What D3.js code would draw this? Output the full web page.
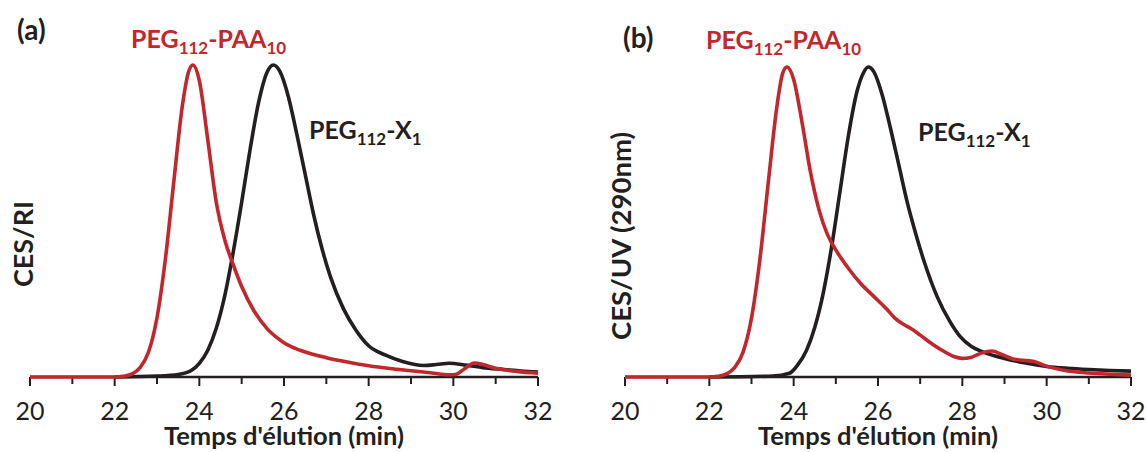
<!DOCTYPE html>
<html><head><meta charset="utf-8">
<script src="https://cdn.jsdelivr.net/npm/d3@7"></script>
<style>
body{margin:0;background:#fff;}
svg{display:block;font-family:Lato,"Open Sans",sans-serif;}
</style></head>
<body><svg id="c" width="1146" height="452"></svg>
<script>
// ---- data (time in min, normalised signal) ----
const xMajorTicks = [20, 22, 24, 26, 28, 30, 32];
const xMinorTicks = [21, 23, 25, 27, 29, 31];

const redA = [[20,0],[21,0],[22,0],[22.2,0.002],[22.4,0.009],[22.6,0.03],[22.8,0.08],[23.0,0.19],[23.2,0.38],[23.4,0.63],[23.6,0.87],[23.75,0.98],[23.85,1.0],[24.0,0.95],[24.2,0.76],[24.4,0.56],[24.6,0.44],[24.8,0.36],[25.0,0.29],[25.3,0.21],[25.6,0.155],[26.0,0.11],[26.5,0.08],[27.0,0.062],[27.5,0.048],[28.0,0.036],[28.5,0.027],[29.0,0.02],[29.5,0.013],[29.9,0.007],[30.05,0.008],[30.25,0.025],[30.5,0.045],[30.7,0.04],[31.0,0.028],[31.5,0.018],[32,0.012]];
const blackA = [[22,0.0],[23.0,0.003],[23.5,0.008],[23.8,0.02],[24.0,0.044],[24.2,0.086],[24.4,0.156],[24.6,0.26],[24.8,0.4],[25.0,0.56],[25.2,0.73],[25.4,0.88],[25.6,0.977],[25.75,1.0],[25.9,0.98],[26.1,0.9],[26.3,0.78],[26.5,0.65],[26.7,0.52],[26.9,0.41],[27.1,0.32],[27.4,0.22],[27.7,0.15],[28.0,0.1],[28.4,0.07],[28.8,0.05],[29.3,0.037],[29.6,0.04],[29.9,0.044],[30.3,0.038],[30.7,0.03],[31.2,0.024],[31.6,0.019],[32,0.016]];

const redB = [[20,0],[21,0],[22,0],[22.2,0.002],[22.4,0.009],[22.6,0.03],[22.8,0.08],[23.0,0.19],[23.2,0.38],[23.4,0.63],[23.6,0.87],[23.74,0.98],[23.84,1.0],[24.0,0.96],[24.2,0.82],[24.4,0.66],[24.6,0.54],[24.8,0.46],[25.0,0.41],[25.3,0.35],[25.6,0.3],[25.9,0.26],[26.2,0.22],[26.4,0.19],[26.6,0.17],[26.8,0.155],[27.0,0.135],[27.3,0.105],[27.6,0.08],[27.8,0.066],[28.0,0.06],[28.2,0.063],[28.45,0.077],[28.7,0.084],[28.95,0.072],[29.2,0.058],[29.45,0.054],[29.7,0.05],[30.0,0.035],[30.4,0.022],[31.0,0.013],[31.5,0.009],[32,0.006]];
const blackB = [[22,0.0],[23.5,0.003],[23.9,0.012],[24.1,0.04],[24.3,0.085],[24.5,0.16],[24.7,0.27],[24.9,0.42],[25.1,0.6],[25.3,0.78],[25.5,0.92],[25.65,0.98],[25.77,1.0],[25.9,0.985],[26.1,0.91],[26.3,0.8],[26.5,0.68],[26.7,0.56],[26.9,0.46],[27.1,0.37],[27.4,0.26],[27.7,0.18],[27.95,0.13],[28.2,0.1],[28.5,0.08],[29.0,0.06],[29.5,0.045],[30.0,0.034],[30.5,0.028],[31.0,0.024],[31.5,0.021],[32,0.019]];

const panelLetters = ["(a)", "(b)"];
const yTitles = ["CES/RI", "CES/UV (290nm)"];
const xTitle = "Temps d'élution (min)";

const RED = "#c1272d", BLK = "#231f20";
const svg = d3.select("#c");

function panel(cfg){
  const g = svg.append("g");
  const x = d3.scaleLinear().domain([20, 32]).range([cfg.x0, cfg.x1]);
  const y = d3.scaleLinear().domain([0, 1]).range([cfg.base, cfg.top]);

  // axis line
  g.append("line").attr("x1", x(20)).attr("x2", x(32)).attr("y1", cfg.base).attr("y2", cfg.base)
    .attr("stroke", BLK).attr("stroke-width", 2.5);
  g.selectAll(".mj").data(xMajorTicks).join("line")
    .attr("x1", d => x(d)).attr("x2", d => x(d)).attr("y1", cfg.base).attr("y2", cfg.base + 9)
    .attr("stroke", BLK).attr("stroke-width", 2);
  g.selectAll(".mn").data(xMinorTicks).join("line")
    .attr("x1", d => x(d)).attr("x2", d => x(d)).attr("y1", cfg.base).attr("y2", cfg.base + 7)
    .attr("stroke", BLK).attr("stroke-width", 2);
  g.selectAll(".tl").data(xMajorTicks).join("text")
    .attr("x", d => x(d)).attr("y", 420).attr("text-anchor", "middle")
    .attr("font-size", 25).attr("fill", BLK).text(d => d);
  g.append("text").attr("x", (cfg.x0 + cfg.x1) / 2).attr("y", 445).attr("text-anchor", "middle")
    .attr("font-size", 25.5).attr("font-weight", "bold").attr("fill", BLK).text(xTitle);

  // y title
  g.append("text").attr("transform", `translate(${cfg.yx},${cfg.yy}) rotate(-90)`)
    .attr("text-anchor", "middle").attr("font-size", cfg.ysize).attr("font-weight", "bold")
    .attr("fill", BLK).text(cfg.ytitle);

  // panel letter
  g.append("text").attr("x", cfg.lx).attr("y", cfg.ly).attr("font-size", 28)
    .attr("font-weight", "bold").attr("fill", BLK).text(cfg.letter);

  const line = d3.line().x(d => x(d[0])).y(d => y(d[1])).curve(d3.curveMonotoneX);
  g.append("path").attr("d", line(cfg.black)).attr("fill", "none").attr("stroke", BLK)
    .attr("stroke-width", 3.6).attr("stroke-linejoin", "round");
  g.append("path").attr("d", line(cfg.red)).attr("fill", "none").attr("stroke", RED)
    .attr("stroke-width", 3.6).attr("stroke-linejoin", "round");

  // series labels
  const t1 = g.append("text").attr("x", cfg.r1x).attr("y", cfg.r1y).attr("fill", RED)
    .attr("font-weight", "bold").attr("font-size", 25);
  t1.append("tspan").text("PEG");
  t1.append("tspan").attr("font-size", 17).attr("dy", 6).text("112");
  t1.append("tspan").attr("dy", -6).text("-PAA");
  t1.append("tspan").attr("font-size", 17).attr("dy", 6).text("10");

  const t2 = g.append("text").attr("x", cfg.b1x).attr("y", cfg.b1y).attr("fill", BLK)
    .attr("font-weight", "bold").attr("font-size", 25);
  t2.append("tspan").text("PEG");
  t2.append("tspan").attr("font-size", 17).attr("dy", 6).text("112");
  t2.append("tspan").attr("dy", -6).text("-X");
  t2.append("tspan").attr("font-size", 17).attr("dy", 6).text("1");
}

panel({x0: 30, x1: 538, base: 377, top: 65, red: redA, black: blackA,
  letter: panelLetters[0], lx: 17, ly: 40, ytitle: yTitles[0], ysize: 27, yx: 33, yy: 244,
  r1x: 131, r1y: 48, b1x: 309, b1y: 139});
panel({x0: 625, x1: 1131, base: 377, top: 67, red: redB, black: blackB,
  letter: panelLetters[1], lx: 623, ly: 48, ytitle: yTitles[1], ysize: 27.5, yx: 631, yy: 236,
  r1x: 706, r1y: 49, b1x: 918, b1y: 141});
</script></body></html>
